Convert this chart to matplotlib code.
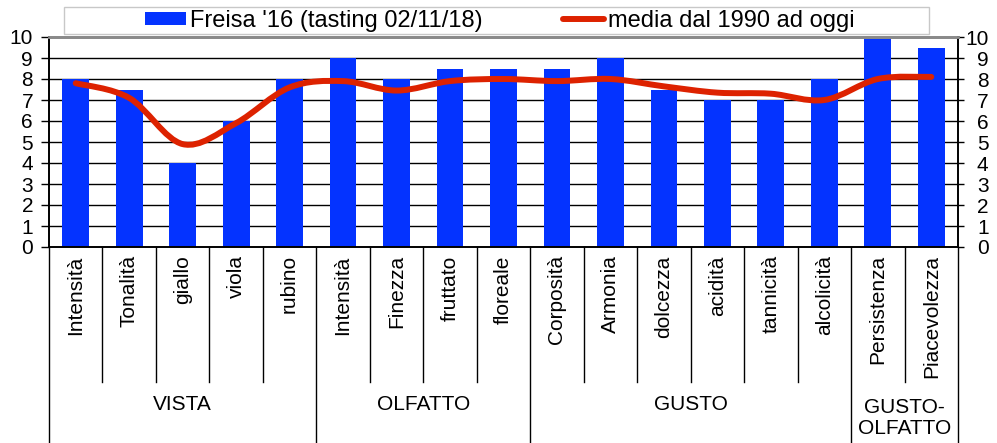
import matplotlib
matplotlib.use("Agg")
import matplotlib.pyplot as plt
from matplotlib.path import Path
from matplotlib.patches import PathPatch, Rectangle
from matplotlib.lines import Line2D
import matplotlib.transforms as mtransforms
import numpy as np

plt.rcParams['font.family'] = ['Liberation Sans', 'DejaVu Sans']

categories = ["Intensità", "Tonalità", "giallo", "viola", "rubino",
              "Intensità", "Finezza", "fruttato", "floreale",
              "Corposità", "Armonia", "dolcezza", "acidità", "tannicità", "alcolicità",
              "Persistenza", "Piacevolezza"]
freisa = [8, 7.5, 4, 6, 8, 9, 8, 8.5, 8.5, 8.5, 9, 7.5, 7, 7, 8, 10, 9.5]
media = [7.8, 7.1, 4.9, 5.9, 7.6, 7.9, 7.45, 7.9, 8.0, 7.9, 8.0, 7.65, 7.35, 7.3, 7.0, 8.0, 8.1]
groups = ["VISTA", "OLFATTO", "GUSTO", "GUSTO-\nOLFATTO"]
group_sizes = [5, 4, 6, 2]
yticks = list(range(0, 11))

label_bar = "Freisa '16 (tasting 02/11/18)"
label_line = "media dal 1990 ad oggi"

W, H = 997, 443
fig = plt.figure(figsize=(W / 100, H / 100), dpi=100)
L, R, T, B = 49, 958, 37, 247
ax = fig.add_axes([L / W, (H - B) / H, (R - L) / W, (B - T) / H])

blue = "#0433FF"
red = "#DD2200"
fs = 15
fs_leg = 17

x = np.arange(len(categories))
ax.bar(x, freisa, width=0.5, color=blue, zorder=2)

# smooth line (Catmull-Rom as cubic Bezier)
pts = np.column_stack([x, media]).astype(float)
n = len(pts)
verts = [pts[0]]
codes = [Path.MOVETO]
for i in range(n - 1):
    p0 = pts[i - 1] if i > 0 else pts[i]
    p1 = pts[i]
    p2 = pts[i + 1]
    p3 = pts[i + 2] if i + 2 < n else pts[i + 1]
    c1 = p1 + (p2 - p0) / 6.0
    c2 = p2 - (p3 - p1) / 6.0
    verts += [c1, c2, p2]
    codes += [Path.CURVE4] * 3
ax.add_patch(PathPatch(Path(verts, codes), facecolor="none", edgecolor=red,
                       lw=4.3, capstyle="round", joinstyle="round", zorder=3))

ax.set_xlim(-0.5, len(categories) - 0.5)
ax.set_ylim(0, 10)
ax.set_yticks(yticks)
ax.set_yticklabels([str(v) for v in yticks], fontsize=fs)
for v in yticks[1:-1]:
    ax.axhline(v, color="black", lw=1.0, zorder=1)

ax.tick_params(axis="y", left=True, right=False, labelleft=True,
               labelright=False, length=5.5, width=1, pad=6, direction="out")
ax.set_xticks(x)
ax.set_xticklabels(categories, rotation=90, fontsize=fs, va="top", ha="center")
ax.tick_params(axis="x", length=0, pad=6)

# right axis labels (right-aligned like the reference)
ax2 = ax.twinx()
ax2.set_ylim(0, 10)
ax2.set_yticks(yticks)
ax2.set_yticklabels([str(v) for v in yticks], fontsize=fs)
ax2.tick_params(axis="y", length=4, width=1, pad=18, direction="out")
for lab in ax2.get_yticklabels():
    lab.set_horizontalalignment("right")
for a in (ax, ax2):
    for s in ["left", "right", "bottom"]:
        a.spines[s].set_color("black")
        a.spines[s].set_linewidth(1.2)
    a.spines["top"].set_color("#8a8a8a")
    a.spines["top"].set_linewidth(2.0)

# separators below axis
trans = mtransforms.blended_transform_factory(ax.transData, ax.transAxes)
ah = B - T
short = -(382 - B) / ah
long_ = -(H + 2 - B) / ah
bounds = np.cumsum([0] + group_sizes)
group_edges = set(bounds.tolist())
for k in range(len(categories) + 1):
    xe = k - 0.5
    y1 = long_ if k in group_edges else short
    ax.add_line(Line2D([xe, xe], [0, y1], transform=trans, color="black",
                       lw=1.0, clip_on=False))

for g, a, b in zip(groups, bounds[:-1], bounds[1:]):
    xc = (a + b - 1) / 2.0
    if "\n" in g:
        yy = -(418 - B) / ah
    else:
        yy = -(405 - B) / ah
    ax.text(xc, yy, g, transform=trans, ha="center", va="center",
            fontsize=fs, linespacing=1.15, clip_on=False)

# legend box
fig.patches.append(Rectangle((64 / W, (H - 34) / H), (929 - 64) / W, 27 / H,
                             transform=fig.transFigure, facecolor="white",
                             edgecolor="#c8c8c8", lw=1.0, zorder=0))
hb = Rectangle((0, 0), 1, 1, facecolor=blue, edgecolor="none")
hl = Line2D([0], [0], color=red, lw=4.3, solid_capstyle="round")
fig.legend([hb, hl], [label_bar, label_line], loc="center",
           bbox_to_anchor=(500 / W, (H - 20.5) / H), ncol=2, frameon=False,
           fontsize=fs_leg, handlelength=1.75, handleheight=0.47, handletextpad=0.17,
           columnspacing=3.4, borderpad=0)

fig.savefig("out.png", dpi=100)
